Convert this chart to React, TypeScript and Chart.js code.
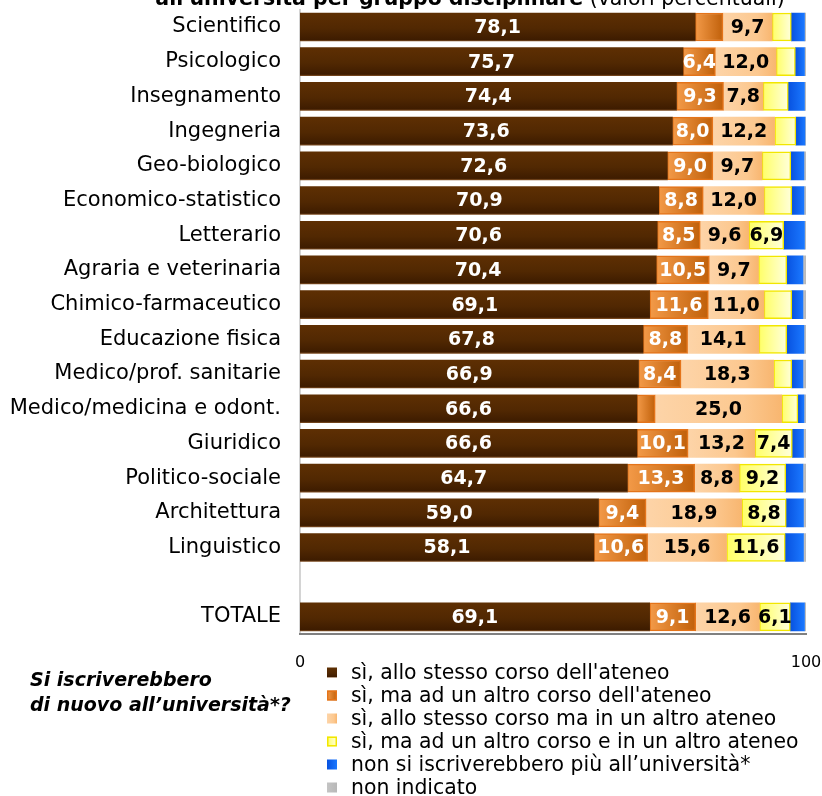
import React, { useEffect, useRef } from "react";
import { Chart, registerables } from "chart.js";

Chart.register(...registerables);

const FONT = "'DejaVu Sans', sans-serif";

const categories = [
  "Scientifico",
  "Psicologico",
  "Insegnamento",
  "Ingegneria",
  "Geo-biologico",
  "Economico-statistico",
  "Letterario",
  "Agraria e veterinaria",
  "Chimico-farmaceutico",
  "Educazione fisica",
  "Medico/prof. sanitarie",
  "Medico/medicina e odont.",
  "Giuridico",
  "Politico-sociale",
  "Architettura",
  "Linguistico",
  "",
  "TOTALE",
];

const stessoCorsoAteneo = [78.1, 75.7, 74.4, 73.6, 72.6, 70.9, 70.6, 70.4, 69.1, 67.8, 66.9, 66.6, 66.6, 64.7, 59.0, 58.1, null, 69.1];
const altroCorsoAteneo = [5.5, 6.4, 9.3, 8.0, 9.0, 8.8, 8.5, 10.5, 11.6, 8.8, 8.4, 3.6, 10.1, 13.3, 9.4, 10.6, null, 9.1];
const stessoCorsoAltroAteneo = [9.7, 12.0, 7.8, 12.2, 9.7, 12.0, 9.6, 9.7, 11.0, 14.1, 18.3, 25.0, 13.2, 8.8, 18.9, 15.6, null, 12.6];
const altroCorsoAltroAteneo = [3.8, 3.8, 5.0, 4.2, 5.7, 5.5, 6.9, 5.6, 5.5, 5.5, 3.6, 3.2, 7.4, 9.2, 8.8, 11.6, null, 6.1];
const nonIscriverebbero = [2.6, 1.8, 3.2, 1.8, 2.6, 2.4, 4.1, 3.2, 2.2, 3.4, 2.2, 1.2, 2.2, 3.4, 3.4, 3.6, null, 2.8];
const nonIndicato = [0.3, 0.3, 0.3, 0.2, 0.4, 0.4, 0.3, 0.6, 0.6, 0.4, 0.6, 0.4, 0.5, 0.6, 0.5, 0.5, null, 0.3];

const seriesLabels = [
  "sì, allo stesso corso dell'ateneo",
  "sì, ma ad un altro corso dell'ateneo",
  "sì, allo stesso corso ma in un altro ateneo",
  "sì, ma ad un altro corso e in un altro ateneo",
  "non si iscriverebbero più all’università*",
  "non indicato",
];

const xTicks = [0, 100];

const titleBold = "all'università per gruppo disciplinare";
const titleNormal = " (valori percentuali)";
const sideText = ["Si iscriverebbero", "di nuovo all’università*?"];

const BAR_H = 28;

function gradFor(ctx: CanvasRenderingContext2D, kind: number, x0: number, x1: number, y0: number, y1: number) {
  let g: CanvasGradient;
  if (kind === 0) {
    g = ctx.createLinearGradient(0, y0, 0, y1);
    g.addColorStop(0, "#5e2f03");
    g.addColorStop(0.55, "#512802");
    g.addColorStop(0.95, "#3e1c00");
    g.addColorStop(1, "#7a4a20");
  } else if (kind === 1) {
    g = ctx.createLinearGradient(x0, 0, x1, 0);
    g.addColorStop(0, "#f39a48");
    g.addColorStop(1, "#c0600a");
  } else if (kind === 2) {
    g = ctx.createLinearGradient(x0, 0, x1, 0);
    g.addColorStop(0, "#fdd4a8");
    g.addColorStop(0.7, "#fcc88f");
    g.addColorStop(1, "#f8b670");
  } else if (kind === 3) {
    g = ctx.createLinearGradient(x0, 0, x1, 0);
    g.addColorStop(0, "#ffff66");
    g.addColorStop(1, "#ffffdd");
  } else if (kind === 4) {
    g = ctx.createLinearGradient(x0, 0, x1, 0);
    g.addColorStop(0, "#0852e0");
    g.addColorStop(1, "#1a78ff");
  } else {
    g = ctx.createLinearGradient(x0, 0, x1, 0);
    g.addColorStop(0, "#c4c4c4");
    g.addColorStop(1, "#b8b8b8");
  }
  return g;
}

const flatColors = ["#5a2b00", "#e07a20", "#fcc890", "#ffff99", "#0a60f0", "#c0c0c0"];
const borderColors = ["#5a2b00", "#e4741a", "#fcc890", "#f2e600", "#0a60f0", "#c0c0c0"];
const borderWidths = [0, 1.5, 0, 1.5, 0, 0];

const allSeries = [
  stessoCorsoAteneo,
  altroCorsoAteneo,
  stessoCorsoAltroAteneo,
  altroCorsoAltroAteneo,
  nonIscriverebbero,
  nonIndicato,
];

function fmt(v: number) {
  return v.toFixed(1).replace(".", ",");
}

const labelsPlugin = {
  id: "segLabels",
  afterDatasetsDraw(chart: any) {
    const ctx = chart.ctx;
    ctx.save();
    ctx.font = `bold 19px ${FONT}`;
    ctx.textAlign = "center";
    ctx.textBaseline = "middle";
    for (let d = 0; d < 4; d++) {
      const meta = chart.getDatasetMeta(d);
      meta.data.forEach((el: any, i: number) => {
        const v = allSeries[d][i];
        if (v == null || v < 6) return;
        const cx = (el.x + el.base) / 2;
        ctx.fillStyle = d < 2 ? "#ffffff" : "#000000";
        ctx.fillText(fmt(v), cx, el.y + 1);
      });
    }
    ctx.restore();
  },
};

const decorPlugin = {
  id: "decor",
  afterDraw(chart: any) {
    const ctx: CanvasRenderingContext2D = chart.ctx;
    ctx.save();
    // title (partially visible)
    ctx.textBaseline = "alphabetic";
    ctx.fillStyle = "#000";
    ctx.font = `bold 20.5px ${FONT}`;
    const wb = ctx.measureText(titleBold).width;
    ctx.font = `20.5px ${FONT}`;
    const wn = ctx.measureText(titleNormal).width;
    const tx = 470 - (wb + wn) / 2;
    ctx.textAlign = "left";
    ctx.font = `bold 20.5px ${FONT}`;
    ctx.fillText(titleBold, tx, 5);
    ctx.font = `20.5px ${FONT}`;
    ctx.fillText(titleNormal, tx + wb, 5);

    // side question
    ctx.font = `italic bold 19px ${FONT}`;
    ctx.textBaseline = "middle";
    ctx.fillText(sideText[0], 30, 681);
    ctx.fillText(sideText[1], 30, 706);

    // legend
    ctx.font = `20.4px ${FONT}`;
    for (let i = 0; i < seriesLabels.length; i++) {
      const yc = 672.5 + i * 23;
      const sx = 327;
      const sy = yc - 5;
      ctx.fillStyle = gradFor(ctx, i, sx, sx + 10, sy, sy + 10);
      ctx.fillRect(sx, sy, 10, 10);
      if (borderWidths[i] > 0) {
        ctx.strokeStyle = borderColors[i];
        ctx.lineWidth = 1.5;
        ctx.strokeRect(sx + 0.75, sy + 0.75, 8.5, 8.5);
      }
      ctx.fillStyle = "#000";
      ctx.fillText(seriesLabels[i], 351, yc + 1);
    }
    ctx.restore();
  },
};

export default function App() {
  const ref = useRef<HTMLCanvasElement | null>(null);

  useEffect(() => {
    if (!ref.current) return;
    const datasets = allSeries.map((data, k) => ({
      label: seriesLabels[k],
      data,
      backgroundColor: (c: any) => {
        const chart = c.chart;
        const xs = chart.scales?.x;
        const ys = chart.scales?.y;
        if (!chart.chartArea || !xs || !ys || c.type !== "data") return flatColors[k];
        const i = c.dataIndex;
        let start = 0;
        for (let j = 0; j < k; j++) start += (allSeries[j][i] as number) || 0;
        const v = (allSeries[k][i] as number) || 0;
        const x0 = xs.getPixelForValue(start);
        const x1 = xs.getPixelForValue(start + v);
        const yc = ys.getPixelForValue(i);
        return gradFor(chart.ctx, k, x0, x1 === x0 ? x0 + 1 : x1, yc - BAR_H / 2, yc + BAR_H / 2);
      },
      borderColor: borderColors[k],
      borderWidth: borderWidths[k],
      borderSkipped: false,
      barThickness: BAR_H,
    }));

    const chart = new Chart(ref.current, {
      type: "bar",
      data: { labels: categories, datasets },
      options: {
        indexAxis: "y",
        responsive: false,
        animation: false,
        layout: { padding: { top: 9.65, right: 16, left: 0, bottom: 0 } },
        plugins: {
          legend: { display: false },
          tooltip: { enabled: false },
          title: { display: false },
        },
        scales: {
          y: {
            type: "category",
            stacked: true,
            offset: true,
            grid: { display: false, drawTicks: false },
            border: { display: true, color: "#d4d4d4", width: 2 },
            ticks: { font: { family: FONT, size: 21 }, color: "#000", padding: 19, autoSkip: false },
            afterFit: (s: any) => {
              s.width = 300;
              s.paddingTop = 0;
              s.paddingBottom = 0;
            },
          },
          x: {
            type: "linear",
            stacked: true,
            min: 0,
            max: 100,
            afterBuildTicks: (s: any) => {
              s.ticks = xTicks.map((v) => ({ value: v }));
            },
            grid: { display: false, drawTicks: false },
            border: { display: true, color: "#808080", width: 2 },
            ticks: { font: { family: FONT, size: 16 }, color: "#000", padding: 19, maxRotation: 0, autoSkip: false },
            afterFit: (s: any) => {
              s.height = 161.7;
              s.paddingLeft = 0;
              s.paddingRight = 0;
            },
          },
        },
      },
      plugins: [labelsPlugin, decorPlugin],
    });
    return () => chart.destroy();
  }, []);

  return (
    <div style={{ position: "fixed", left: 0, top: 0, width: 822, height: 796, background: "#fff" }}>
      <canvas ref={ref} width={822} height={796} style={{ display: "block" }} />
    </div>
  );
}
